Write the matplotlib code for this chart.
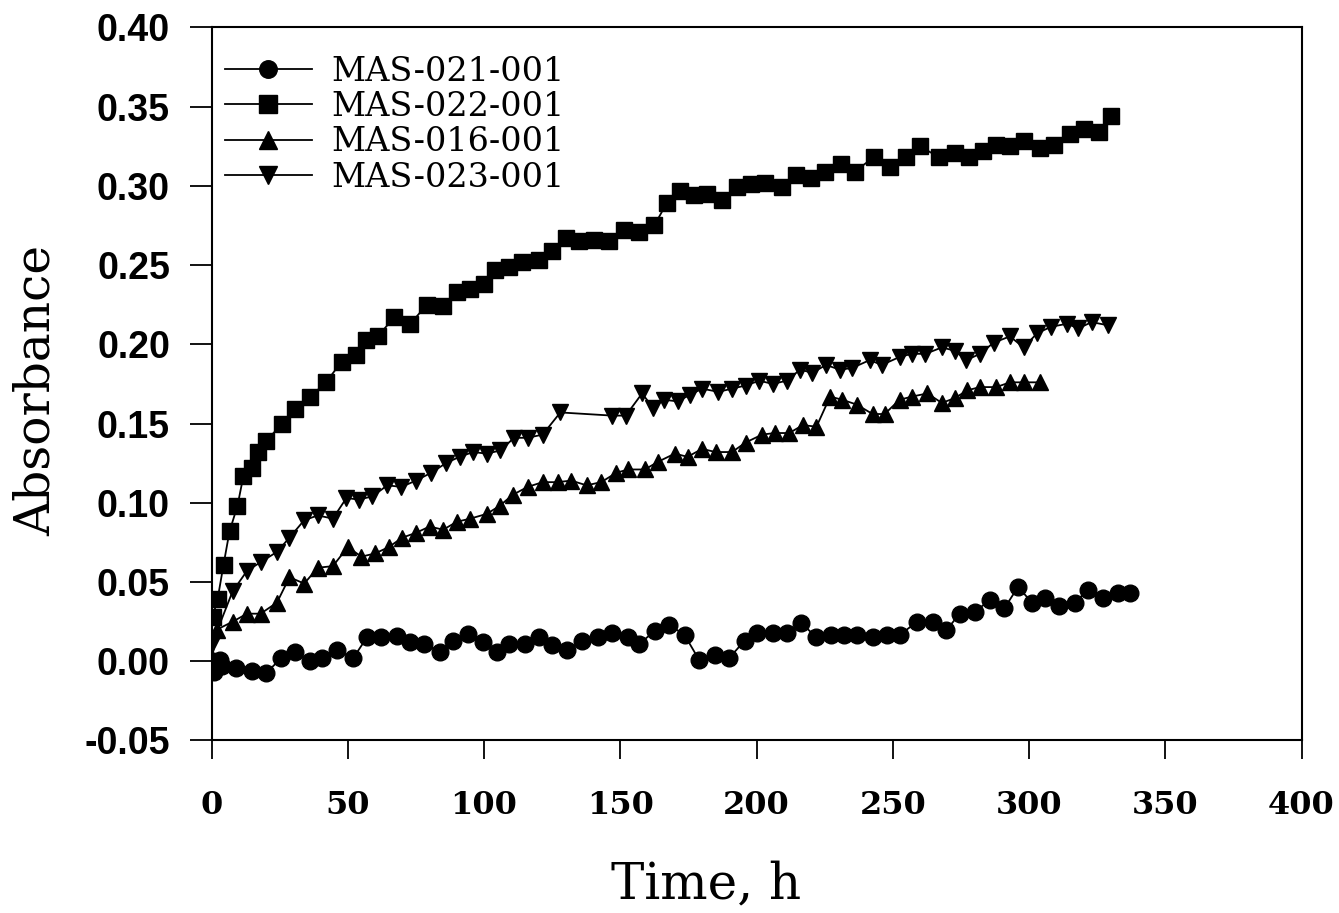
import matplotlib
matplotlib.use("Agg")
import matplotlib.pyplot as plt

# MAS-021-001 (circles)
t021 = [0, 1, 3, 4, 9, 15, 20, 25.6, 30.5, 36, 40.7, 46, 52, 57, 62, 68, 73, 78, 83.7, 88.5, 94,
        99.5, 104.6, 109, 115, 120, 125, 130.6, 136, 141.7, 147, 152.7, 157, 162.6, 168, 173.6,
        179, 184.6, 190, 195.6, 200, 206, 211, 216.5, 222, 227.5, 232, 237, 242.6, 247.7, 252.5,
        259, 264.6, 269.7, 274.5, 280, 285.5, 291, 296, 301, 306, 311, 316.7, 321.5, 327, 332.5, 337]
a021 = [0.0, -0.007, 0.001, -0.003, -0.004, -0.006, -0.0075, 0.002, 0.006, 0.0, 0.002, 0.007, 0.002,
        0.015, 0.015, 0.016, 0.012, 0.011, 0.006, 0.013, 0.017, 0.012, 0.006, 0.011, 0.011, 0.015,
        0.010, 0.007, 0.013, 0.015, 0.0175, 0.015, 0.011, 0.019, 0.023, 0.0165, 0.0006, 0.004, 0.002,
        0.013, 0.0175, 0.0175, 0.0175, 0.024, 0.015, 0.0165, 0.0165, 0.0165, 0.015, 0.0165, 0.0165,
        0.025, 0.025, 0.0195, 0.030, 0.031, 0.0385, 0.0335, 0.047, 0.037, 0.040, 0.035, 0.0365,
        0.045, 0.040, 0.043, 0.043]

# MAS-022-001 (squares)
t022 = [0.4, 2.2, 4.4, 6.6, 9.5, 11.7, 14.7, 17.2, 20, 26, 30.5, 36.3, 42, 47.7, 53, 56.5, 61, 67,
        73, 79, 85, 90, 95, 100, 104, 109, 114, 120, 125, 130, 135, 140.5, 146, 151.5, 157, 162.5,
        167, 172, 177, 182, 187.5, 193, 198, 203, 209.5, 214.5, 220, 225, 231, 236, 243, 249, 255,
        260, 267, 273, 278, 283, 288, 293, 298, 304, 309, 315, 320, 325.5, 330]
a022 = [0.028, 0.039, 0.061, 0.082, 0.098, 0.117, 0.122, 0.132, 0.139, 0.150, 0.159, 0.167, 0.176,
        0.189, 0.193, 0.203, 0.205, 0.217, 0.213, 0.225, 0.224, 0.233, 0.235, 0.238, 0.247, 0.249,
        0.252, 0.253, 0.259, 0.267, 0.265, 0.266, 0.265, 0.272, 0.271, 0.275, 0.289, 0.297, 0.294,
        0.295, 0.291, 0.299, 0.301, 0.302, 0.299, 0.307, 0.305, 0.309, 0.314, 0.309, 0.318, 0.312,
        0.318, 0.325, 0.318, 0.321, 0.318, 0.322, 0.326, 0.325, 0.328, 0.324, 0.326, 0.333, 0.336,
        0.334, 0.344]

# MAS-016-001 (up triangles)
t016 = [0, 2, 7.8, 13, 18, 24, 28.6, 34, 39, 44.5, 50, 55, 60, 65, 70, 75, 80, 85, 90, 95, 101,
        105.7, 110.5, 116, 121.5, 127, 132, 137.6, 143, 148.6, 153, 159, 164, 170, 174.7, 180, 185,
        191, 196, 202, 206.6, 212, 217, 222, 227, 231.5, 236.7, 242.6, 247, 252.5, 257, 262.7, 268,
        272.7, 277.4, 282, 288, 293, 298, 304]
a016 = [0.0, 0.02, 0.025, 0.030, 0.030, 0.037, 0.053, 0.049, 0.059, 0.060, 0.072, 0.066, 0.068,
        0.072, 0.078, 0.081, 0.085, 0.083, 0.088, 0.090, 0.093, 0.098, 0.105, 0.110, 0.113, 0.113,
        0.114, 0.111, 0.113, 0.119, 0.121, 0.121, 0.126, 0.131, 0.129, 0.134, 0.132, 0.132, 0.138,
        0.143, 0.144, 0.144, 0.149, 0.148, 0.167, 0.165, 0.162, 0.156, 0.156, 0.165, 0.167, 0.169,
        0.163, 0.166, 0.171, 0.173, 0.173, 0.176, 0.176, 0.176]

# MAS-023-001 (down triangles)
t023 = [0, 0.4, 7.7, 13, 18, 24, 28.6, 34, 39, 44.5, 49.5, 54, 59, 64.5, 69.7, 75, 80.7, 86, 91,
        96, 101, 106, 111, 116, 121.5, 128, 147, 152, 158, 162, 166, 171, 175.5, 180, 186, 191,
        196, 201, 206, 211, 216, 220.5, 225.5, 230.5, 235, 241.5, 246, 252.5, 257, 262, 268, 272.7,
        277, 282, 287, 293, 298, 303, 308, 314, 318, 323, 329]
a023 = [0.0, 0.012, 0.044, 0.057, 0.0625, 0.069, 0.078, 0.089, 0.092, 0.090, 0.103, 0.102, 0.104,
        0.111, 0.110, 0.114, 0.119, 0.125, 0.129, 0.132, 0.131, 0.133, 0.141, 0.141, 0.143, 0.157,
        0.155, 0.155, 0.169, 0.160, 0.165, 0.164, 0.168, 0.172, 0.170, 0.172, 0.174, 0.177, 0.175,
        0.177, 0.184, 0.182, 0.187, 0.184, 0.185, 0.190, 0.187, 0.192, 0.194, 0.194, 0.198, 0.196,
        0.190, 0.194, 0.201, 0.205, 0.198, 0.207, 0.211, 0.213, 0.210, 0.214, 0.212]

labels = ["MAS-021-001", "MAS-022-001", "MAS-016-001", "MAS-023-001"]
xticks = [0, 50, 100, 150, 200, 250, 300, 350, 400]
yticks = [-0.05, 0.00, 0.05, 0.10, 0.15, 0.20, 0.25, 0.30, 0.35, 0.40]

fig = plt.figure(figsize=(13.39, 9.13), dpi=100)
ax = fig.add_axes([0.158, 0.189, 0.814, 0.781])

series = [(t021, a021, "o"), (t022, a022, "s"), (t016, a016, "^"), (t023, a023, "v")]
for (t, a, m), lab in zip(series, labels):
    ax.plot(t, a, color="black", marker=m, markersize=12, linewidth=1.3, label=lab)

ax.set_xlim(0, 400)
ax.set_ylim(-0.05, 0.40)
ax.set_xticks(xticks)
ax.set_yticks(yticks)
ax.set_xticklabels([str(v) for v in xticks], family="DejaVu Serif", fontweight="bold", fontsize=23)
ax.set_yticklabels([f"{v:.2f}" for v in yticks], family="Liberation Sans", fontweight="bold", fontsize=27)
ax.tick_params(direction="out", width=1.3)
ax.tick_params(axis="y", length=16, pad=14)
ax.tick_params(axis="x", length=14, pad=22)
for s in ax.spines.values():
    s.set_linewidth(1.5)

ax.set_xlabel("Time, h", family="DejaVu Serif", fontsize=36)
ax.xaxis.set_label_coords(0.454, -0.168)
ax.set_ylabel("Absorbance", family="DejaVu Serif", fontsize=35)
ax.yaxis.set_label_coords(-0.139, 0.491)

leg = ax.legend(loc="upper left", bbox_to_anchor=(0.0, 0.979), frameon=False,
                prop={"family": "DejaVu Serif", "size": 24},
                handlelength=2.6, labelspacing=0.1, borderaxespad=0.0, handletextpad=0.6,
                markerscale=1.05)

fig.savefig("out.png", dpi=100, facecolor="white")
